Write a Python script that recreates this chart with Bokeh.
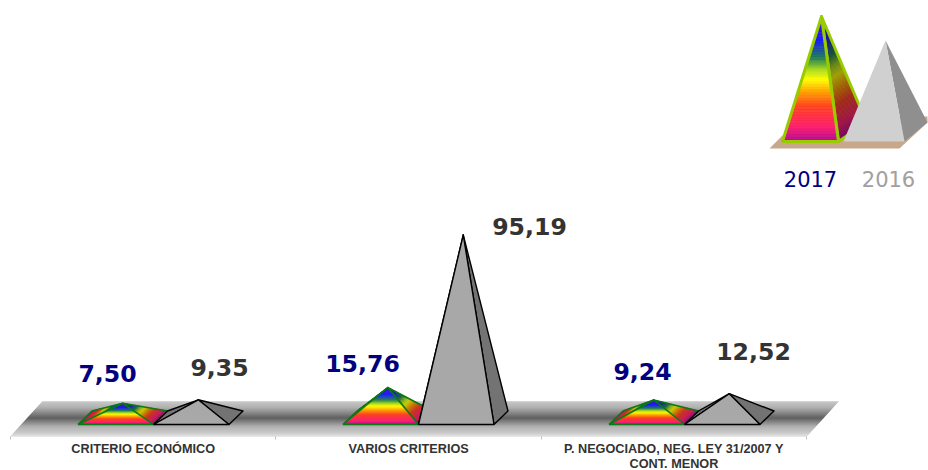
from bokeh.plotting import figure
from bokeh.models import Range1d, FixedTicker
from bokeh.core.properties import value
from bokeh.embed import file_html
from bokeh.resources import INLINE

# ---- data
categories = ["CRITERIO ECONÓMICO", "VARIOS CRITERIOS", "P. NEGOCIADO, NEG. LEY 31/2007 Y\nCONT. MENOR"]
values_2017 = [7.50, 15.76, 9.24]
values_2016 = [9.35, 95.19, 12.52]
series_names = ["2017", "2016"]

# ---- layout (reference pixels)
PX_L, PX_R, PX_T, PX_B = 0, 928, 0, 470
X0, CAT_W = 10.0, 265.4      # pixel of category edge 0, category width
Y0, Y_SCALE = 424.0, 1.92    # pixel of value 0, pixels per unit
def ux(px): return (px - X0) / CAT_W
def uy(py): return (Y0 - py) / Y_SCALE

RAINBOW = [(0.0, "#b0089c"), (0.12, "#ff2070"), (0.28, "#ff4020"), (0.40, "#ffa000"),
           (0.50, "#ffff00"), (0.58, "#a8d820"), (0.67, "#208050"), (0.82, "#1818ff"), (1.0, "#4818a8")]
FLOOR = [(0.0, "#c4c4c4"), (0.18, "#a8a8a8"), (0.48, "#505050"), (0.72, "#a8a8a8"), (0.92, "#c8c8c8"), (1.0, "#e0e0e0")]

def rgb(h): return [int(h[i:i + 2], 16) for i in (1, 3, 5)]
def ramp(stops, t, k=1.0):
    for (t0, c0), (t1, c1) in zip(stops, stops[1:]):
        if t <= t1:
            f = (t - t0) / (t1 - t0)
            a, b = rgb(c0), rgb(c1)
            return "#%02x%02x%02x" % tuple(int(round((a[i] + (b[i] - a[i]) * f) * k)) for i in range(3))
    return stops[-1][1]

p = figure(frame_width=PX_R - PX_L, frame_height=PX_B - PX_T, output_backend="svg", toolbar_location=None,
           x_range=Range1d(ux(PX_L), ux(PX_R)), y_range=Range1d(uy(PX_B), uy(PX_T)),
           min_border=0, min_border_left=0, min_border_right=0, min_border_top=0, min_border_bottom=0)
p.extra_x_ranges["px"] = Range1d(PX_L, PX_R)
p.extra_y_ranges["px"] = Range1d(PX_B, PX_T)
p.outline_line_color = None
p.grid.visible = False
p.yaxis.visible = False

PX = dict(x_range_name="px", y_range_name="px")

# floor
n = 35
xs, ys, cs = [], [], []
for i in range(n):
    a, b = 401 + i, 402 + i
    xs.append([10 + (436 - a) * 32 / 35, 806 + (436 - a) * 32 / 35, 806 + (436 - b) * 32 / 35, 10 + (436 - b) * 32 / 35])
    ys.append([a, a, b, b])
    cs.append(ramp(FLOOR, (i + 0.5) / n))
p.patches(xs, ys, fill_color=cs, line_color=cs, line_width=0.4, **PX)

# category axis: ticks only, sitting on the floor's front edge
ax = p.xaxis[0]
ax.fixed_location = uy(436)
ax.ticker = FixedTicker(ticks=[], minor_ticks=[0, 1, 2, 3])
ax.major_tick_line_color = None
ax.axis_line_color = None
ax.minor_tick_in = 0
ax.minor_tick_out = 3
ax.minor_tick_line_color = "#c0c0c0"

# category labels
p.text([i + 0.5 for i in range(len(categories))], [uy(441)] * len(categories), text=categories,
       text_font=value("Liberation Sans"), text_font_style="bold", text_font_size="12.7px",
       text_color="#333333", text_align="center", text_baseline="top", text_line_height=1.1)

def face(a, b, apex, stops, k, N=36, **kw):
    xs, ys, cs = [], [], []
    for i in range(N):
        t0, t1 = i / N, (i + 1) / N
        xs.append([a[0] + (apex[0] - a[0]) * t0, b[0] + (apex[0] - b[0]) * t0,
                   b[0] + (apex[0] - b[0]) * t1, a[0] + (apex[0] - a[0]) * t1])
        ys.append([a[1] + (apex[1] - a[1]) * t0, b[1] + (apex[1] - b[1]) * t0,
                   b[1] + (apex[1] - b[1]) * t1, a[1] + (apex[1] - a[1]) * t1])
        cs.append(ramp(stops, (i + 0.5) / N, k))
    p.patches(xs, ys, fill_color=cs, line_color=cs, line_width=0.7, **kw)

def outline(a, b, apex, color, lw, **kw):
    p.line([a[0], apex[0], b[0], a[0]], [a[1], apex[1], b[1], a[1]],
           line_color=color, line_width=lw, line_join="round", **kw)

# chart pyramids, value scale
DX, DY = 14 / CAT_W, 13.5 / Y_SCALE
W = 75.5 / CAT_W
bases = [ux(153), ux(418), ux(684)]
for c, v17, v16 in zip(bases, values_2017, values_2016):
    # 2017, rainbow
    fl, fr = (c - W, 0), (c, 0)
    apex = (c - W / 2 + DX / 2, v17 + DY / 2)
    for a, b, k in ((fl, (fl[0] + DX, DY), 0.8), (fr, (fr[0] + DX, DY), 0.8), (fl, fr, 1.0)):
        face(a, b, apex, RAINBOW, k)
        outline(a, b, apex, "#0a7a14", 1.5)
    # 2016, grey
    fl, fr = (c, 0), (c + W, 0)
    apex = (c + W / 2 + DX / 2, v16 + DY / 2)
    for a, b, col in ((fl, (fl[0] + DX, DY), "#737373"), (fr, (fr[0] + DX, DY), "#737373"), (fl, fr, "#a8a8a8")):
        p.patch([a[0], b[0], apex[0]], [a[1], b[1], apex[1]], fill_color=col, line_color=None)
        outline(a, b, apex, "#000000", 1.4)

# value labels
label_x_17 = [ux(107), ux(362), ux(642)]
label_y_17 = [uy(373), uy(363), uy(371)]
label_x_16 = [ux(219), ux(529), ux(753)]
label_y_16 = [uy(367), uy(226), uy(351)]
fmt = lambda v: f"{v:.2f}".replace(".", ",")
for lx, ly, vals, col in ((label_x_17, label_y_17, values_2017, "#000080"), (label_x_16, label_y_16, values_2016, "#333333")):
    p.text(lx, ly, text=[fmt(v) for v in vals], text_font=value("DejaVu Sans"), text_font_style="bold",
           text_font_size="23.6px", text_color=col, text_align="center", text_baseline="middle")

# legend icon
p.patch([769, 899, 927, 927, 801], [148, 148, 122, 116, 116], fill_color="#c8a88a", line_color=None, **PX)
for a, b, k in (((838, 141), (866, 122), 0.62), ((782, 141), (838, 141), 1.0)):
    face(a, b, (821, 16), RAINBOW, k, N=80, **PX)
    outline(a, b, (821, 16), "#99cc00", 3, **PX)
p.patch([904, 927, 885], [141, 122, 40], fill_color="#8f8f8f", line_color=None, **PX)
p.patch([843, 904, 885], [141, 141, 40], fill_color="#d0d0d0", line_color=None, **PX)
p.text([810, 888], [178, 178], text=series_names, text_font=value("DejaVu Sans"), text_font_size="21px",
       text_color=["#000080", "#a0a0a0"], text_align="center", text_baseline="middle", **PX)

open("out.html", "w").write(file_html(p, INLINE))
